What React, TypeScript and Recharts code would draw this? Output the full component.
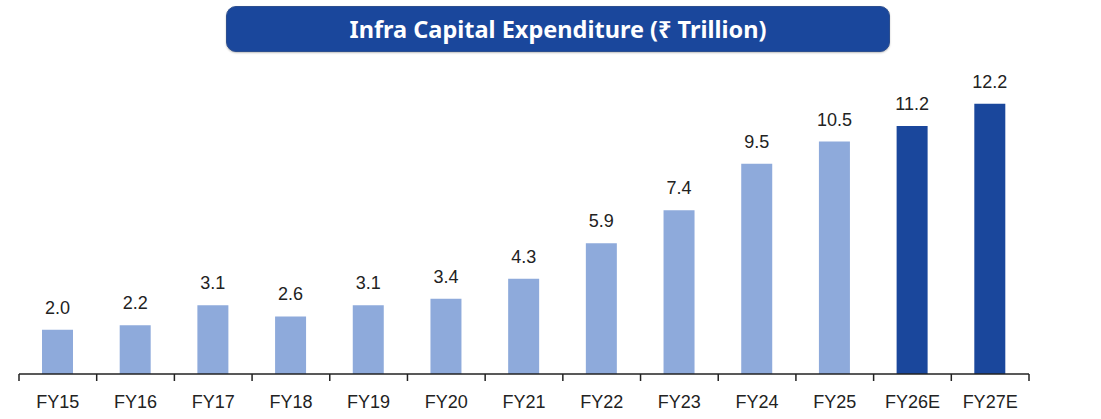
import React from "react";
import { BarChart, Bar, XAxis, YAxis, LabelList, Cell } from "recharts";

const categories = ["FY15", "FY16", "FY17", "FY18", "FY19", "FY20", "FY21", "FY22", "FY23", "FY24", "FY25", "FY26E", "FY27E"];
const capex = [2.0, 2.2, 3.1, 2.6, 3.1, 3.4, 4.3, 5.9, 7.4, 9.5, 10.5, 11.2, 12.2];
const title = "Infra Capital Expenditure (₹ Trillion)";

const data = categories.map((c, i) => ({ name: c, value: capex[i] }));

const LIGHT = "#8eaadb";
const DARK = "#1a479c";
const FONT = "'Liberation Sans', Arial, sans-serif";

const Tick = (props: any) => {
  const { x, y, payload, index, visibleTicksCount } = props;
  const half = payload && payload.offset ? payload.offset : 0;
  const last = index === visibleTicksCount - 1;
  return (
    <g>
      <line x1={x - half} x2={x - half} y1={y} y2={y + 7} stroke="#222" strokeWidth={1.5} />
      {last && <line x1={x + half} x2={x + half} y1={y} y2={y + 7} stroke="#222" strokeWidth={1.5} />}
      <text x={x} y={y + 34} textAnchor="middle" fontFamily={FONT} fontSize={18} fill="#222">
        {payload.value}
      </text>
    </g>
  );
};

export default function App() {
  return (
    <div style={{ position: "absolute", left: 0, top: 0, width: 1101, height: 419, background: "#fff" }}>
      <div
        style={{
          position: "absolute",
          left: 226,
          top: 6,
          width: 664,
          height: 46,
          boxSizing: "border-box",
          background: DARK,
          border: "1px solid #2d4f8f",
          borderRadius: 10,
          color: "#fff",
          fontFamily: "'Noto Sans', 'Open Sans', sans-serif",
          fontWeight: 700,
          fontSize: 23.5,
          display: "flex",
          alignItems: "center",
          justifyContent: "center",
          boxShadow: "0 1px 2px rgba(0,0,0,0.25)",
        }}
      >
        {title}
      </div>
      <BarChart width={1101} height={419} data={data} margin={{ top: 64, right: 72, bottom: 0, left: 19 }} barSize={31}>
        <YAxis hide domain={[0, 14]} />
        <XAxis
          dataKey="name"
          height={45}
          axisLine={{ stroke: "#222", strokeWidth: 1.5 }}
          tickLine={false}
          tickSize={0}
          tickMargin={0}
          interval={0}
          tick={<Tick />}
        />
        <Bar dataKey="value" isAnimationActive={false}>
          {data.map((d) => (
            <Cell key={d.name} fill={d.name.endsWith("E") ? DARK : LIGHT} />
          ))}
          <LabelList
            dataKey="value"
            position="top"
            offset={16}
            fontFamily={FONT}
            fontSize={18}
            fill="#222"
            formatter={(v: any) => Number(v).toFixed(1)}
          />
        </Bar>
      </BarChart>
    </div>
  );
}
